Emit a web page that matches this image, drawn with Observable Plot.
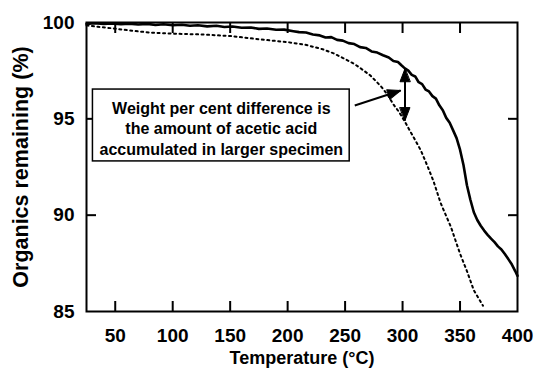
<!DOCTYPE html>
<html>
<head>
<meta charset="utf-8">
<script src="https://cdn.jsdelivr.net/npm/d3@7"></script>
<script src="https://cdn.jsdelivr.net/npm/@observablehq/plot@0.6"></script>
<style>
  html, body { margin: 0; padding: 0; background: #fff; }
  #chart svg { display: block; }
</style>
</head>
<body>
<div id="chart"></div>
<script>
// Thermogravimetric traces: organics remaining (%) versus temperature (°C)
// Larger specimen (solid trace, recorded with visible signal noise)
const solidTemp = [25, 32, 40, 47, 55, 62, 70, 78, 85, 92, 100, 108, 115, 122, 130, 138, 145, 152, 160,
  168, 175, 182, 190, 197, 205, 210, 216, 222, 228, 233, 238, 243, 248, 253, 258, 263, 268, 273, 278,
  283, 288, 292, 296, 299, 302, 305, 308, 311, 314, 317, 320, 323, 326, 329, 332, 335, 338, 341, 344,
  347, 350, 353, 356, 359, 362, 365, 368, 371, 374, 377, 380, 383, 386, 389, 392, 395, 398, 400];
const solidPct = [99.93, 99.96, 99.92, 99.95, 99.91, 99.94, 99.9, 99.93, 99.87, 99.91, 99.86, 99.88, 99.83,
  99.86, 99.8, 99.83, 99.77, 99.79, 99.73, 99.74, 99.67, 99.69, 99.62, 99.63, 99.55, 99.5, 99.48, 99.38,
  99.33, 99.22, 99.24, 99.1, 99.06, 98.93, 98.88, 98.72, 98.68, 98.5, 98.44, 98.3, 98.18, 98.0, 97.95,
  97.78, 97.62, 97.5, 97.28, 97.2, 96.9, 96.8, 96.52, 96.42, 96.18, 96.05, 95.7, 95.45, 95.05, 94.8,
  94.4, 94.0, 93.4, 92.6, 91.55, 90.8, 90.15, 89.75, 89.45, 89.2, 88.98, 88.78, 88.6, 88.38, 88.22,
  87.98, 87.72, 87.45, 87.1, 86.85];

// Smaller specimen (dotted trace)
const dottedTemp = [25, 35, 50, 65, 80, 100, 125, 150, 175, 200, 215, 230, 240, 250, 258, 264, 272, 281,
  287, 292, 297, 302, 310, 316, 322, 327, 333, 338, 342, 346, 350, 356, 362, 366, 370];
const dottedPct = [99.85, 99.78, 99.68, 99.57, 99.48, 99.42, 99.38, 99.3, 99.13, 98.98, 98.85, 98.62,
  98.4, 98.1, 97.85, 97.6, 97.25, 96.7, 96.25, 95.75, 95.35, 94.85, 94.0, 93.35, 92.5, 91.75, 90.65,
  89.95, 89.4, 88.7, 88.0, 87.1, 86.1, 85.7, 85.3];

// Axis ticks
const xTicks = [50, 100, 150, 200, 250, 300, 350, 400];
const yTicks = [85, 90, 95, 100];

// Annotation
const noteLines = [
  "Weight per cent difference is",
  "the amount of acetic acid",
  "accumulated in larger specimen"
];
const noteBox = {x1: 30.6, x2: 254, y1: 92.79, y2: 96.52};
const noteAnchor = {x: 142.3, y: 94.55};
const diffTemp = 302.1;            // where the difference is measured
const diffTop = 97.6;              // larger specimen
const diffBottom = 94.91;          // smaller specimen
const pointerFrom = {x: 258.4, y: 95.69};
const pointerTo = {x: 298.3, y: 96.47};

const solid = solidTemp.map((t, i) => ({t, v: solidPct[i]}));
const dotted = dottedTemp.map((t, i) => ({t, v: dottedPct[i]}));

// Filled triangular arrowhead; the tip sits on the vector's (x, y)
const headShape = {
  draw(context, l, r) {
    context.moveTo(0, -l);
    context.lineTo(-r, 0);
    context.lineTo(r, 0);
    context.closePath();
  }
};

const blank = () => "";
const font = "'Liberation Sans', Arial, Helvetica, sans-serif";

const chart = Plot.plot({
  width: 536,
  height: 375,
  marginTop: 22,
  marginRight: 19,
  marginBottom: 64,
  marginLeft: 86,
  style: {fontFamily: font, fontWeight: "bold", fontSize: "19px", color: "black", background: "white"},
  x: {domain: [25, 400]},
  y: {domain: [85, 100]},
  marks: [
    // tick labels
    Plot.axisX(xTicks, {anchor: "bottom", tickSize: 0, tickPadding: 17, label: null, fontSize: 19}),
    Plot.axisY(yTicks, {anchor: "left", tickSize: 0, tickPadding: 12, label: null, fontSize: 19}),
    // inward tick marks on all four sides
    Plot.axisX(xTicks.slice(0, -1), {anchor: "bottom", tickSize: -10, tickFormat: blank, label: null, strokeWidth: 2}),
    Plot.axisX(xTicks.slice(0, -1), {anchor: "top", tickSize: -10, tickFormat: blank, label: null, strokeWidth: 2}),
    Plot.axisY([90, 95], {anchor: "left", tickSize: -10, tickFormat: blank, label: null, strokeWidth: 2}),
    Plot.axisY([90, 95], {anchor: "right", tickSize: -10, tickFormat: blank, label: null, strokeWidth: 2}),
    // axis titles
    Plot.text(["Temperature (°C)"], {frameAnchor: "bottom", dy: 52, fontSize: 18, fontWeight: "bold"}),
    Plot.text(["Organics remaining (%)"], {frameAnchor: "left", dx: -65, rotate: -90, textAnchor: "middle", fontSize: 21.5, fontWeight: "bold"}),
    // traces
    Plot.line(dotted, {x: "t", y: "v", stroke: "black", strokeWidth: 2, strokeDasharray: "2,3.5"}),
    Plot.line(solid, {x: "t", y: "v", stroke: "black", strokeWidth: 2.6, strokeLinejoin: "miter"}),
    // annotation box and text
    Plot.rect([noteBox], {x1: "x1", x2: "x2", y1: "y1", y2: "y2", fill: "white", stroke: "black", strokeWidth: 1.5}),
    Plot.text([noteLines.join("\n")], {x: noteAnchor.x, y: noteAnchor.y, fontSize: 16, fontWeight: "bold", lineHeight: 1.28}),
    // pointer from the box to the difference
    Plot.link([{...pointerFrom}], {x1: "x", y1: "y", x2: () => pointerTo.x, y2: () => pointerTo.y, stroke: "black", strokeWidth: 2}),
    Plot.vector([pointerTo], {x: "x", y: "y", rotate: 72, length: 13, r: 5, anchor: "end", shape: headShape, fill: "black", stroke: "black", strokeWidth: 1}),
    // double-headed arrow spanning the difference
    Plot.link([{t: diffTemp}], {x1: "t", x2: "t", y1: () => diffTop, y2: () => diffBottom, stroke: "black", strokeWidth: 2}),
    Plot.vector([{t: diffTemp, v: diffTop}], {x: "t", y: "v", rotate: 0, length: 13, r: 5, anchor: "end", shape: headShape, fill: "black", stroke: "black", strokeWidth: 1}),
    Plot.vector([{t: diffTemp, v: diffBottom}], {x: "t", y: "v", rotate: 180, length: 13, r: 5, anchor: "end", shape: headShape, fill: "black", stroke: "black", strokeWidth: 1}),
    // plot frame
    Plot.frame({stroke: "black", strokeWidth: 2})
  ]
});

document.getElementById("chart").appendChild(chart);
</script>
</body>
</html>
